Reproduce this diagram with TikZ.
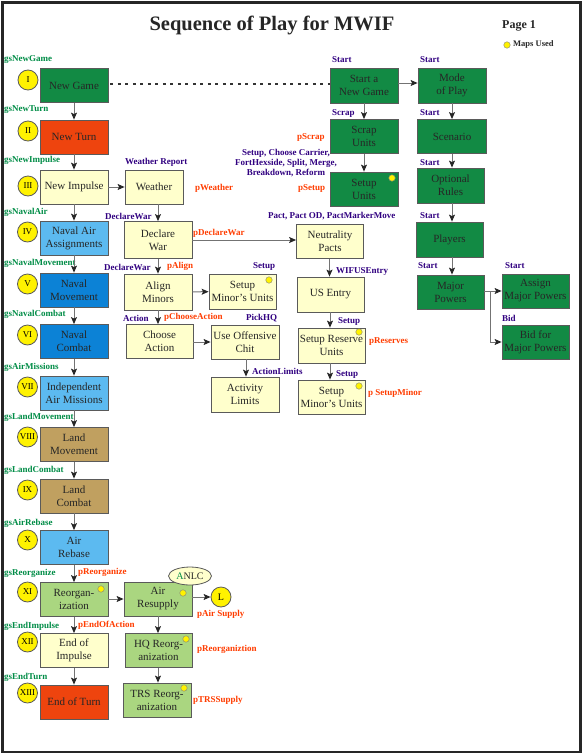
\documentclass[tikz,border=0pt]{standalone}
\usepackage{fontspec}
\setmainfont{Liberation Serif}
\usetikzlibrary{arrows.meta,shapes.geometric}
\definecolor{dgreen}{RGB}{18,138,68}
\definecolor{lgreen}{RGB}{170,214,128}
\definecolor{oranger}{RGB}{238,68,14}
\definecolor{lyellow}{RGB}{255,255,204}
\definecolor{lblue}{RGB}{92,186,240}
\definecolor{mblue}{RGB}{12,130,214}
\definecolor{tan}{RGB}{192,160,96}
\definecolor{gslab}{RGB}{0,140,70}
\definecolor{blab}{RGB}{48,0,128}
\definecolor{rlab}{RGB}{255,60,0}
\definecolor{boxline}{RGB}{90,90,90}
\begin{document}
\begin{tikzpicture}[x=1pt,y=-1pt,
  box/.style={draw=boxline, line width=0.8pt, minimum width=68pt, minimum height=34pt,
    inner sep=1pt, align=center, font=\fontsize{11}{13}\selectfont, text=black!85},
  lab/.style={anchor=west, inner sep=0pt, font=\bfseries\fontsize{9}{10}\selectfont},
  gsl/.style={lab, text=gslab},
  bl/.style={lab, text=blab},
  rl/.style={lab, text=rlab},
  num/.style={circle, draw=boxline, line width=0.8pt, fill=yellow, minimum size=20pt,
    inner sep=0pt, font=\fontsize{9}{10}\selectfont},
  ydot/.style={circle, draw=black!50, line width=0.4pt, fill=yellow, minimum size=6.5pt, inner sep=0pt},
  arr/.style={draw=black!55, line width=1pt, -{Stealth[length=7pt,width=6pt,inset=1.5pt,black!85]}},
  plain/.style={draw=black!55, line width=1pt}
]
\useasboundingbox (0,0) rectangle (586,755);
\draw[line width=2.5pt, black!85] (2.5,2.5) rectangle (580.5,752);

% title
\node[inner sep=0pt, font=\bfseries\fontsize{20.5}{22}\selectfont, text=black!85] (title) at (272,25) {Sequence of Play for MWIF};
\node[anchor=west, inner sep=0pt, font=\bfseries\fontsize{12}{13}\selectfont, text=black!85] (page) at (502,26) {Page 1};
\node[ydot] (legdot) at (507,45) {};
\node[anchor=west, inner sep=0pt, font=\bfseries\fontsize{8.5}{10}\selectfont, text=black!85] (legtxt) at (513,44) {Maps Used};

% left column
\node[box, fill=dgreen] (ng) at (74,85.5) {New Game};
\node[box, fill=oranger] (nt) at (74,137) {New Turn};
\node[box, fill=lyellow] (ni) at (74,187) {New Impulse};
\node[box, fill=lblue] (na) at (74,238) {Naval Air\\Assignments};
\node[box, fill=mblue] (nm) at (74,290) {Naval\\Movement};
\node[box, fill=mblue] (nc) at (74,341.5) {Naval\\Combat};
\node[box, fill=lblue] (am) at (74,393) {Independent\\Air Missions};
\node[box, fill=tan] (lm) at (74,444.5) {Land\\Movement};
\node[box, fill=tan] (lc) at (74,496) {Land\\Combat};
\node[box, fill=lblue] (ar) at (74,547.5) {Air\\Rebase};
\node[box, fill=lgreen] (ro) at (74,599.5) {Reorgan-\\ization};
\node[box, fill=lyellow] (ei) at (74,650.5) {End of\\Impulse};
\node[box, fill=oranger] (et) at (74,702) {End of Turn};

\node[num] (c1) at (28,80) {I};
\node[num] (c2) at (28,131) {II};
\node[num] (c3) at (28,186) {III};
\node[num] (c4) at (27.5,232) {IV};
\node[num] (c5) at (27.5,284) {V};
\node[num] (c6) at (27.5,335) {VI};
\node[num] (c7) at (27.5,387) {VII};
\node[num] (c8) at (27.5,437) {VIII};
\node[num] (c9) at (27.5,490) {IX};
\node[num] (c10) at (27.5,540) {X};
\node[num] (c11) at (27.5,592) {XI};
\node[num] (c12) at (27.5,642) {XII};
\node[num] (c13) at (27.5,693) {XIII};

\node[gsl] (g1) at (4,60) {gsNewGame};
\node[gsl] (g2) at (4,110) {gsNewTurn};
\node[gsl] (g3) at (4,160) {gsNewImpulse};
\node[gsl] (g4) at (4,212) {gsNavalAir};
\node[gsl] (g5) at (4,263) {gsNavalMovement};
\node[gsl] (g6) at (4,314) {gsNavalCombat};
\node[gsl] (g7) at (4,367) {gsAirMissions};
\node[gsl] (g8) at (4,417) {gsLandMovement};
\node[gsl] (g9) at (4,470) {gsLandCombat};
\node[gsl] (g10) at (4,523) {gsAirRebase};
\node[gsl] (g11) at (4,573) {gsReorganize};
\node[gsl] (g12) at (4,626) {gsEndImpulse};
\node[gsl] (g13) at (4,677) {gsEndTurn};

% column 2
\node[box, fill=lyellow, minimum width=58pt] (w) at (154,187) {Weather};
\node[box, fill=lyellow, minimum height=37pt] (dw) at (158,240) {Declare\\War};
\node[box, fill=lyellow, minimum height=36pt] (al) at (158,292) {Align\\Minors};
\node[box, fill=lyellow, minimum width=67pt] (ca) at (159.5,341.5) {Choose\\Action};
\node[box, fill=lgreen] (ars) at (158,599) {Air\\Resupply};
\node[box, fill=lgreen, minimum width=67pt] (hq) at (158.5,650.5) {HQ Reorg-\\anization};
\node[box, fill=lgreen] (trs) at (157,700) {TRS  Reorg-\\anization};

% column 3
\node[box, fill=lyellow, minimum width=67pt, minimum height=35pt] (smu) at (242.5,291.5) {Setup\\Minor's Units};
\node[box, fill=lyellow] (uoc) at (245,342) {Use Offensive\\Chit};
\node[box, fill=lyellow, minimum height=35pt] (alim) at (245,394.5) {Activity\\Limits};
\node[ellipse, draw=boxline, line width=0.8pt, fill=lyellow, minimum width=43pt, minimum height=18pt,
  inner sep=0pt, font=\fontsize{10}{11}\selectfont, text=black!85] (anlc) at (190,576) {\textcolor{gslab}{A}NLC};
\node[num, font=\fontsize{10}{11}\selectfont] (lc1) at (221,597) {L};

% column 4
\node[box, fill=lyellow, minimum width=67pt] (snp) at (330,241.5) {Neutrality\\Pacts};
\node[box, fill=lyellow, minimum width=67pt, minimum height=35pt] (use) at (330.5,294.5) {US Entry};
\node[box, fill=lyellow, minimum width=67pt, minimum height=35pt] (sru) at (331.5,345.5) {Setup Reserve\\Units};
\node[box, fill=lyellow, minimum width=67pt] (smu2) at (331.5,397) {Setup\\Minor's Units};

% column 5
\node[box, fill=dgreen, minimum height=35pt] (sng) at (364,85.5) {Start a\\New Game};
\node[box, fill=dgreen] (scr) at (364,136.5) {Scrap\\Units};
\node[box, fill=dgreen] (setu) at (364,189) {Setup\\Units};

% column 6
\node[box, fill=dgreen, minimum height=35pt] (mop) at (452,85.5) {Mode\\of Play};
\node[box, fill=dgreen, minimum width=69pt] (scn) at (452,136.5) {Scenario};
\node[box, fill=dgreen, minimum width=67pt, minimum height=35pt] (opt) at (450.5,185.5) {Optional\\Rules};
\node[box, fill=dgreen, minimum width=67pt, minimum height=35pt] (pl) at (449.5,239.5) {Players};
\node[box, fill=dgreen, minimum width=67pt] (mp) at (450.5,292) {Major\\Powers};

% column 7
\node[box, fill=dgreen, minimum width=67pt] (amp) at (535.5,291) {Assign\\Major Powers};
\node[box, fill=dgreen, minimum width=67pt] (bid) at (535.5,342) {Bid for\\Major Powers};

% yellow dots
\node[ydot] (d1) at (392,178) {};
\node[ydot] (d2) at (269,280) {};
\node[ydot] (d3) at (359,332) {};
\node[ydot] (d4) at (359,386) {};
\node[ydot] (d5) at (101,589) {};
\node[ydot] (d6) at (183,593) {};
\node[ydot] (d7) at (186,639) {};
\node[ydot] (d8) at (184,688) {};

% blue labels
\node[bl] (b1) at (332,60) {Start};
\node[bl] (b2) at (420,60) {Start};
\node[bl] (b3) at (332,113) {Scrap};
\node[bl] (b4) at (420,113) {Start};
\node[inner sep=0pt, align=center, font=\bfseries\fontsize{9}{10}\selectfont, text=blab] (b5) at (286,163)
  {Setup, Choose Carrier,\\FortHexside, Split, Merge,\\Breakdown, Reform};
\node[bl] (b6) at (420,163) {Start};
\node[bl] (b7) at (125,162) {Weather Report};
\node[bl] (b8) at (105,216) {DeclareWar};
\node[bl] (b9) at (268,216) {Pact, Pact OD, PactMarkerMove};
\node[bl] (b10) at (420,216) {Start};
\node[bl] (b11) at (104,267) {DeclareWar};
\node[bl] (b12) at (253,266) {Setup};
\node[bl] (b13) at (336,271) {WIFUSEntry};
\node[bl] (b14) at (418,266) {Start};
\node[bl] (b15) at (505,266) {Start};
\node[bl] (b16) at (123,318) {Action};
\node[bl] (b17) at (246,318) {PickHQ};
\node[bl] (b18) at (338,321) {Setup};
\node[bl] (b19) at (502,318) {Bid};
\node[bl] (b20) at (252,371) {ActionLimits};
\node[bl] (b21) at (336,374) {Setup};

% red labels
\node[rl] (r1) at (297,137) {pScrap};
\node[rl] (r2) at (298,188) {pSetup};
\node[rl] (r3) at (195,188) {pWeather};
\node[rl] (r4) at (193,233) {pDeclareWar};
\node[rl] (r5) at (167,266) {pAlign};
\node[rl] (r6) at (164,317) {pChooseAction};
\node[rl] (r7) at (369,342) {pReserves};
\node[rl] (r8) at (368,393) {p SetupMinor};
\node[rl] (r9) at (78,572) {pReorganize};
\node[rl] (r10) at (197,614) {pAir Supply};
\node[rl] (r11) at (78,625) {pEndOfAction};
\node[rl] (r12) at (197,649) {pReorganiztion};
\node[rl] (r13) at (193,700) {pTRSSupply};

% left column connectors
\draw[arr] (ng) -- (nt);
\draw[arr] (nt) -- (ni);
\draw[arr] (ni) -- (na);
\draw[arr] (na) -- (nm);
\draw[arr] (nm) -- (nc);
\draw[arr] (nc) -- (am);
\draw[arr] (am) -- (lm);
\draw[arr] (lm) -- (lc);
\draw[arr] (lc) -- (ar);
\draw[arr] (ar) -- (ro);
\draw[arr] (ro) -- (ei);
\draw[arr] (ei) -- (et);

% dotted
\draw[line width=2.6pt, dash pattern=on 2.6pt off 4.9pt, black!80] ([xshift=2pt]ng.east |- 0,84) -- (sng.west |- 0,84);

% column 2 connectors
\draw[arr] (ni) -- (w);
\draw[arr] (dw.north |- w.south) -- (dw.north);
\draw[arr] (dw) -- (al);
\draw[arr] (al.south) -- (al.south |- ca.north);
\draw[arr] (dw.east) -- (dw.east -| snp.west);
\draw[arr] (al) -- (smu);
\draw[arr] (ca.east |- uoc) -- (uoc.west);
\draw[arr] (uoc.south -| 246,0) -- (alim.north -| 246,0);
\draw[arr] (ro.east |- ars) -- (ars.west);
\draw[arr] (ars.east |- lc1) -- (lc1.west);
\draw[arr] (ars) -- (ars.south |- hq.north);
\draw[arr] (ars.south |- hq.south) -- (ars.south |- trs.north);

% column 4 connectors
\draw[arr] (snp.south -| 329.5,0) -- (use.north -| 329.5,0);
\draw[arr] (use.south -| 330,0) -- (sru.north -| 330,0);
\draw[arr] (sru.south -| 330,0) -- (smu2.north -| 330,0);

% column 5/6 connectors
\draw[arr] (sng.east |- 0,83) -- (mop.west |- 0,83);
\draw[arr] (sng) -- (scr);
\draw[arr] (scr) -- (setu);
\draw[arr] (mop.south -| 452,0) -- (scn.north -| 452,0);
\draw[arr] (scn.south -| 452,0) -- (opt.north -| 452,0);
\draw[arr] (opt.south -| 452,0) -- (pl.north -| 452,0);
\draw[arr] (pl.south -| 452,0) -- (mp.north -| 452,0);

% branch
\coordinate (br) at (490,291);
\draw[arr] (mp.east |- br) -- (amp.west |- br);
\draw[arr] (br) -- (490,342) -- (bid.west);
\end{tikzpicture}
\end{document}
